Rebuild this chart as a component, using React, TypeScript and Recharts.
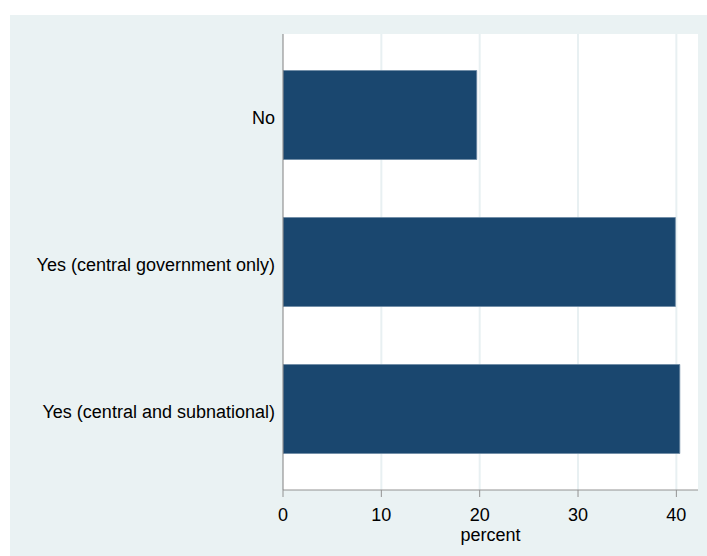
import React from 'react';
import { BarChart, Bar, XAxis, YAxis, CartesianGrid, Label } from 'recharts';

const categories = ['No', 'Yes (central government only)', 'Yes (central and subnational)'];
const percents = [19.7, 39.9, 40.35];
const xTicks = [0, 10, 20, 30, 40];

const data = categories.map((c, i) => ({ name: c, percent: percents[i] }));

const FONT = '"Liberation Sans", Arial, Helvetica, sans-serif';

const YTick = (props: any) => {
  const { x, y, payload } = props;
  return (
    <text x={x} y={y} dy={3 + 6.4} textAnchor="end" fontSize={18} fontFamily={FONT} fill="#000">
      {payload.value}
    </text>
  );
};

export default function App() {
  return (
    <div style={{ position: 'absolute', left: 0, top: 0, width: 707, height: 556, background: '#fff' }}>
      <div style={{ position: 'absolute', left: 10, top: 15, width: 697, height: 541, background: '#EAF2F3' }} />
      <div style={{ position: 'absolute', left: 0, top: 0 }}>
        <BarChart
          width={707}
          height={556}
          data={data}
          layout="vertical"
          margin={{ top: 34, right: 9, bottom: 0, left: 0 }}
          barSize={89}
        >
          <CartesianGrid horizontal={false} vertical={true} stroke="#E8F0F2" strokeWidth={2} fill="#ffffff" verticalValues={[10, 20, 30, 40]} />
          <XAxis
            type="number"
            dataKey="percent"
            domain={[0, 42.2]}
            ticks={xTicks}
            interval={0}
            allowDataOverflow
            height={66}
            stroke="#929292"
            tickSize={7}
            tickMargin={11}
            tick={{ fontSize: 18, fontFamily: FONT, fill: '#000' }}
            tickLine={{ stroke: '#929292' }}
          >
            <Label value="percent" position="insideBottom" offset={15} style={{ fontSize: 18, fontFamily: FONT, fill: '#000' }} />
          </XAxis>
          <YAxis
            type="category"
            dataKey="name"
            width={283}
            padding={{ top: 7.5, bottom: 7.5 }}
            stroke="#808080"
            tickLine={false}
            tickSize={0}
            tickMargin={8}
            tick={<YTick />}
            interval={0}
          />
          <Bar dataKey="percent" fill="#1A476F" stroke="#6d8aa5" strokeWidth={0.8} isAnimationActive={false} />
        </BarChart>
      </div>
    </div>
  );
}
